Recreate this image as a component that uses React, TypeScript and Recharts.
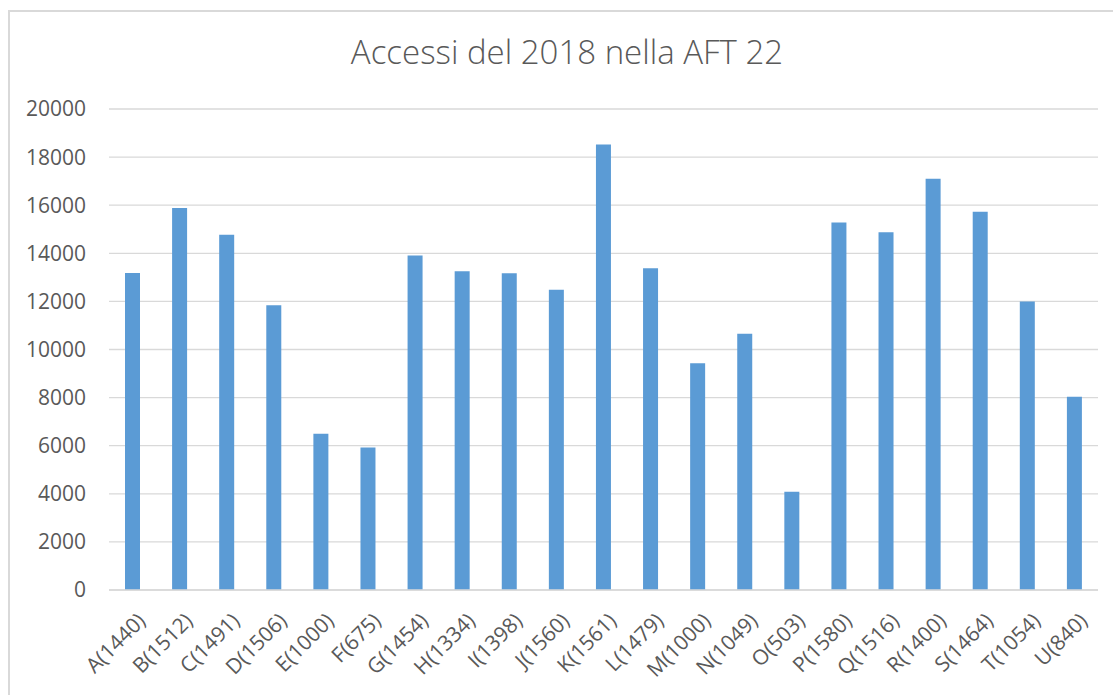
import { BarChart, Bar, XAxis, YAxis, CartesianGrid } from 'recharts'

const categories = [
  'A(1440)', 'B(1512)', 'C(1491)', 'D(1506)', 'E(1000)', 'F(675)', 'G(1454)',
  'H(1334)', 'I(1398)', 'J(1560)', 'K(1561)', 'L(1479)', 'M(1000)', 'N(1049)',
  'O(503)', 'P(1580)', 'Q(1516)', 'R(1400)', 'S(1464)', 'T(1054)', 'U(840)',
]
const accessi = [
  13180, 15880, 14770, 11840, 6500, 5920, 13910,
  13250, 13170, 12480, 18520, 13380, 9430, 10650,
  4090, 15280, 14880, 17100, 15730, 12000, 8040,
]
const yTicks = [0, 2000, 4000, 6000, 8000, 10000, 12000, 14000, 16000, 18000, 20000]

const data = categories.map((name, i) => ({ name, value: accessi[i] }))

const FONT = "'Open Sans', sans-serif"
const TEXT = '#595959'

function CategoryTick({ x, y, payload }: any) {
  return (
    <g transform={`translate(${x + 9},${y})`}>
      <text x={0} y={0} dy="0.35em" textAnchor="end" transform="rotate(-45)" fill={TEXT} fontSize={21} fontFamily={FONT}>
        {payload.value}
      </text>
    </g>
  )
}

export default function App() {
  return (
    <div style={{ position: 'fixed', left: 0, top: 0, width: 1113, height: 695, overflow: 'hidden', background: '#fff' }}>
      <div style={{ position: 'absolute', left: 8, top: 10, width: 1130, height: 720, borderLeft: '2px solid #D9D9D9', borderTop: '2px solid #D9D9D9' }} />
      <div style={{ position: 'absolute', left: 0, top: 0 }}>
        <BarChart width={1113} height={695} data={data} margin={{ top: 109, right: 15, bottom: 0, left: 49 }}>
          <text x={567} y={55} textAnchor="middle" dominantBaseline="middle" fill={TEXT} fontSize={33} fontWeight={300} fontFamily={FONT}>
            Accessi del 2018 nella AFT 22
          </text>
          <CartesianGrid vertical={false} stroke="#D9D9D9" strokeWidth={1.3} />
          <XAxis
            dataKey="name"
            interval={0}
            tick={<CategoryTick />}
            tickLine={false}
            tickSize={0}
            tickMargin={27}
            axisLine={{ stroke: '#D9D9D9', strokeWidth: 1.3 }}
            height={105}
          />
          <YAxis
            width={60}
            domain={[0, 20000]}
            ticks={yTicks}
            interval={0}
            axisLine={false}
            tickLine={false}
            tickSize={0}
            tickMargin={23}
            tick={{ fill: TEXT, fontSize: 21, fontFamily: FONT }}
          />
          <Bar dataKey="value" fill="#5B9BD5" barSize={15} isAnimationActive={false} />
        </BarChart>
      </div>
    </div>
  )
}
